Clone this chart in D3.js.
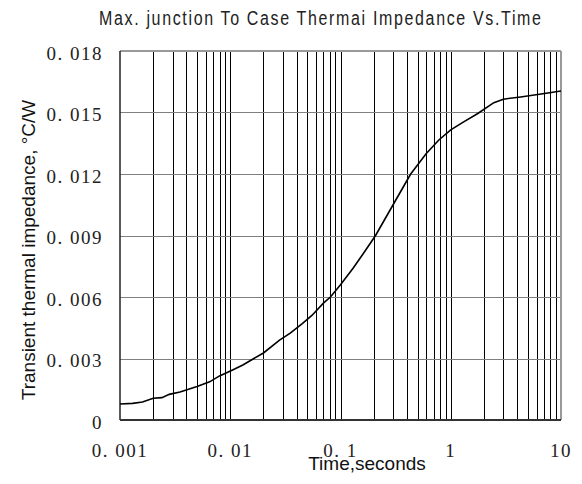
<!DOCTYPE html>
<html>
<head>
<meta charset="utf-8">
<script src="https://cdn.jsdelivr.net/npm/d3@7"></script>
<style>
  body { margin: 0; background: #fff; overflow: hidden; }
  svg { display: block; }
  .tick-label { font-family: "Liberation Serif", "Times New Roman", serif; font-size: 19px; letter-spacing: 1.5px; fill: #222; }
  .axis-label { font-family: "Liberation Sans", Arial, sans-serif; font-size: 19px; fill: #111; }
</style>
</head>
<body>
<div id="chart"></div>
<script>
const width = 582, height = 484;
const margin = {top: 51, right: 21, bottom: 64, left: 120};
const innerWidth = width - margin.left - margin.right;
const innerHeight = height - margin.top - margin.bottom;

// curve
const times = [0.001, 0.0013, 0.0016, 0.002, 0.0024, 0.0028, 0.0035, 0.005, 0.0065, 0.008,
    0.0105, 0.013, 0.015, 0.02, 0.028, 0.035, 0.045, 0.055, 0.07, 0.081,
    0.1, 0.13, 0.16, 0.208, 0.3, 0.433, 0.6, 0.78, 1.0, 1.31,
    1.76, 2.46, 3.0, 4.3, 6.6, 10];
const impedance = [0.00078, 0.00081, 0.00088, 0.00106, 0.00109, 0.00125, 0.00137, 0.00163, 0.00186, 0.00215,
    0.00244, 0.00268, 0.00288, 0.00327, 0.0039, 0.00424, 0.0047, 0.0051, 0.0057, 0.006,
    0.0066, 0.0074, 0.0081, 0.009, 0.0105, 0.012, 0.013, 0.01366, 0.01415, 0.01454,
    0.01495, 0.01548, 0.01565, 0.01576, 0.0159, 0.01605];

const xTicks = [0.001, 0.01, 0.1, 1, 10];
const xTickLabels = ["0. 001", "0. 01", "0. 1", "1", "10"];
const yTicks = [0, 0.003, 0.006, 0.009, 0.012, 0.015, 0.018];
const yTickLabels = ["0", "0. 003", "0. 006", "0. 009", "0. 012", "0. 015", "0. 018"];

const data = times.map((t, i) => ({t: t, z: impedance[i]}));

const svg = d3.select("#chart")
    .append("svg")
    .attr("width", width)
    .attr("height", height)
    .attr("viewBox", `0 0 ${width} ${height}`);

const inner = svg.append("g")
    .attr("transform", `translate(${margin.left}, ${margin.top})`);

const xScale = d3.scaleLog()
    .domain([0.001, 10])
    .range([0, innerWidth]);

const yScale = d3.scaleLinear()
    .domain([0, 0.018])
    .range([innerHeight, 0]);

//minor + major vertical grid (every 1..9 of each decade)
const vLines = [];
for (let e = -3; e < 1; e++) {
    for (let m = 1; m <= 9; m++) vLines.push(m * Math.pow(10, e));
}

inner.selectAll(".vgrid")
    .data(vLines.filter(d => d > 0.001))
    .join("line")
    .attr("class", "vgrid")
    .attr("x1", d => Math.round(xScale(d)) + 0.5)
    .attr("x2", d => Math.round(xScale(d)) + 0.5)
    .attr("y1", 0)
    .attr("y2", innerHeight)
    .attr("stroke", "#000")
    .attr("stroke-width", 1);

//horizontal grid
inner.selectAll(".hgrid")
    .data(yTicks.filter(d => d > 0 && d < 0.018))
    .join("line")
    .attr("class", "hgrid")
    .attr("x1", 0)
    .attr("x2", innerWidth)
    .attr("y1", d => Math.round(yScale(d)) + 0.5)
    .attr("y2", d => Math.round(yScale(d)) + 0.5)
    .attr("stroke", "#808080")
    .attr("stroke-width", 1);

//frame: top/right grey, left/bottom dark
inner.append("line")
    .attr("x1", 0).attr("x2", innerWidth).attr("y1", 0).attr("y2", 0)
    .attr("stroke", "#999").attr("stroke-width", 2);
inner.append("line")
    .attr("x1", innerWidth).attr("x2", innerWidth).attr("y1", 0).attr("y2", innerHeight)
    .attr("stroke", "#999").attr("stroke-width", 2);
inner.append("line")
    .attr("x1", 0).attr("x2", 0).attr("y1", 0).attr("y2", innerHeight)
    .attr("stroke", "#222").attr("stroke-width", 1.5);
inner.append("line")
    .attr("x1", 0).attr("x2", innerWidth).attr("y1", innerHeight).attr("y2", innerHeight)
    .attr("stroke", "#333").attr("stroke-width", 2);

//the curve
const line = d3.line()
    .x(d => xScale(d.t))
    .y(d => yScale(d.z));

inner.append("path")
    .datum(data)
    .attr("fill", "none")
    .attr("stroke", "#000")
    .attr("stroke-width", 1.6)
    .attr("d", line);

//tick labels
inner.selectAll(".ylab")
    .data(yTicks)
    .join("text")
    .attr("class", "tick-label")
    .attr("text-anchor", "end")
    .attr("x", -17)
    .attr("y", d => yScale(d) + 2)
    .attr("dy", "0.35em")
    .text((d, i) => yTickLabels[i]);

inner.selectAll(".xlab")
    .data(xTicks)
    .join("text")
    .attr("class", "tick-label")
    .attr("text-anchor", "middle")
    .attr("x", d => xScale(d))
    .attr("y", innerHeight + 37)
    .text((d, i) => xTickLabels[i]);

//titles
svg.append("text")
    .text("Max. junction To Case Thermai Impedance Vs.Time")
    .attr("transform", "translate(320, 25) scale(0.82, 1)")
    .attr("text-anchor", "middle")
    .attr("textLength", 539)
    .attr("lengthAdjust", "spacing")
    .style("font-family", "'Liberation Sans', Arial, sans-serif")
    .style("font-size", "19.5px")
    .style("fill", "#222");

svg.append("text")
    .text("Time,seconds")
    .attr("class", "axis-label")
    .attr("text-anchor", "middle")
    .attr("x", 367)
    .attr("y", 470);

svg.append("text")
    .text("Transient thermal impedance, °C/W")
    .attr("class", "axis-label")
    .attr("text-anchor", "middle")
    .attr("transform", `translate(35, 250) rotate(-90)`);
</script>
</body>
</html>
